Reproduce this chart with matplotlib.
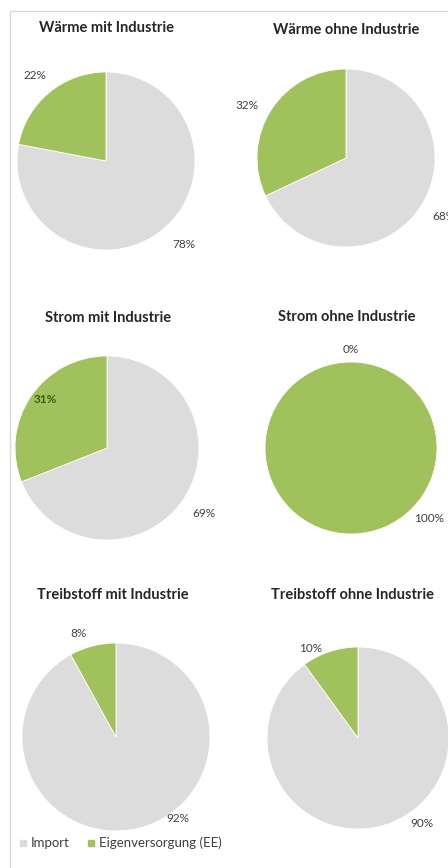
import numpy as np
import matplotlib
matplotlib.use("Agg")
import matplotlib.pyplot as plt
from matplotlib.patches import Rectangle
from matplotlib.lines import Line2D

# --- data -----------------------------------------------------------------
titles = [
    "Wärme mit Industrie", "Wärme ohne Industrie",
    "Strom mit Industrie", "Strom ohne Industrie",
    "Treibstoff mit Industrie", "Treibstoff ohne Industrie",
]
series_names = ["Import", "Eigenversorgung (EE)"]
import_share = [78, 68, 69, 0, 92, 90]
eigen_share = [22, 32, 31, 100, 8, 10]

# --- styling / layout -----------------------------------------------------
W, H = 448, 868
DPI = 100
COL_IMPORT = "#dcdcdc"
COL_EIGEN = "#a0c15c"
TXT = "#404040"
FONT = "Lato"

# pie centre (px from top-left) and radius (px)
pie_geom = [
    (106, 161, 89), (346, 158, 89),
    (107, 448, 92), (351, 448, 86),
    (116, 737, 94), (358, 738, 91),
]
title_pos = [(106, 28), (346, 30), (108, 318), (347, 317), (113, 595), (352, 595)]
# label placement: (angle clockwise from 12 o'clock, radial factor) for Import / EE
label_polar = [
    [(137, 1.29), (320, 1.25)],
    [(121, 1.28), (298, 1.26)],
    [(124, 1.27), (308, 0.85)],
    [(0, 1.15), (132, 1.22)],
    [(142.6, 1.085), (340, 1.17)],
    [(143, 1.17), (332, 1.12)],
]
inside_label_color = "#3d5a12"

fig = plt.figure(figsize=(W / DPI, H / DPI), dpi=DPI)
fig.patch.set_facecolor("white")

# outer frame (left and top edges visible)
frame = Rectangle((10 / W, -0.1), 1.2, 1 - 11 / H + 0.1, transform=fig.transFigure,
                  fill=False, edgecolor="#d9d9d9", linewidth=1.0)
fig.add_artist(frame)

K = 1.6
for i, (title, imp, eig) in enumerate(zip(titles, import_share, eigen_share)):
    cx, cy, r = pie_geom[i]
    half = K * r
    ax = fig.add_axes([(cx - half) / W, 1 - (cy + half) / H, 2 * half / W, 2 * half / H])
    ax.pie([imp, eig], colors=[COL_IMPORT, COL_EIGEN], startangle=90, counterclock=False,
           radius=1.0, wedgeprops=dict(edgecolor="white", linewidth=0.6))
    ax.set_xlim(-K, K)
    ax.set_ylim(-K, K)
    ax.set_aspect("equal")
    ax.axis("off")
    ax.patch.set_alpha(0)
    for j, val in enumerate([imp, eig]):
        ang, dist = label_polar[i][j]
        th = np.deg2rad(ang)
        x, y = dist * np.sin(th), dist * np.cos(th)
        inside = dist < 1
        ax.text(x, y, f"{val}%", ha="center", va="center", fontsize=8.5,
                family=FONT, color=inside_label_color if inside else TXT,
                fontweight="bold" if inside else "normal")
    tx, ty = title_pos[i]
    fig.text(tx / W, 1 - ty / H, title, ha="center", va="center", fontsize=10.5,
             family=FONT, fontweight="bold", color="#262626")

# legend
handles = [Line2D([], [], marker="s", linestyle="none", markersize=4.5,
                  markerfacecolor=c, markeredgecolor=c)
           for c in (COL_IMPORT, COL_EIGEN)]
leg = fig.legend(handles, series_names, loc="center left",
                 bbox_to_anchor=(19 / W, 1 - 843 / H), ncol=2, frameon=False,
                 prop=dict(family=FONT, size=9.5), handlelength=0.6, handletextpad=0.3,
                 columnspacing=1.3, borderaxespad=0, borderpad=0)
for t in leg.get_texts():
    t.set_color(TXT)

fig.savefig("out.png", dpi=DPI)
